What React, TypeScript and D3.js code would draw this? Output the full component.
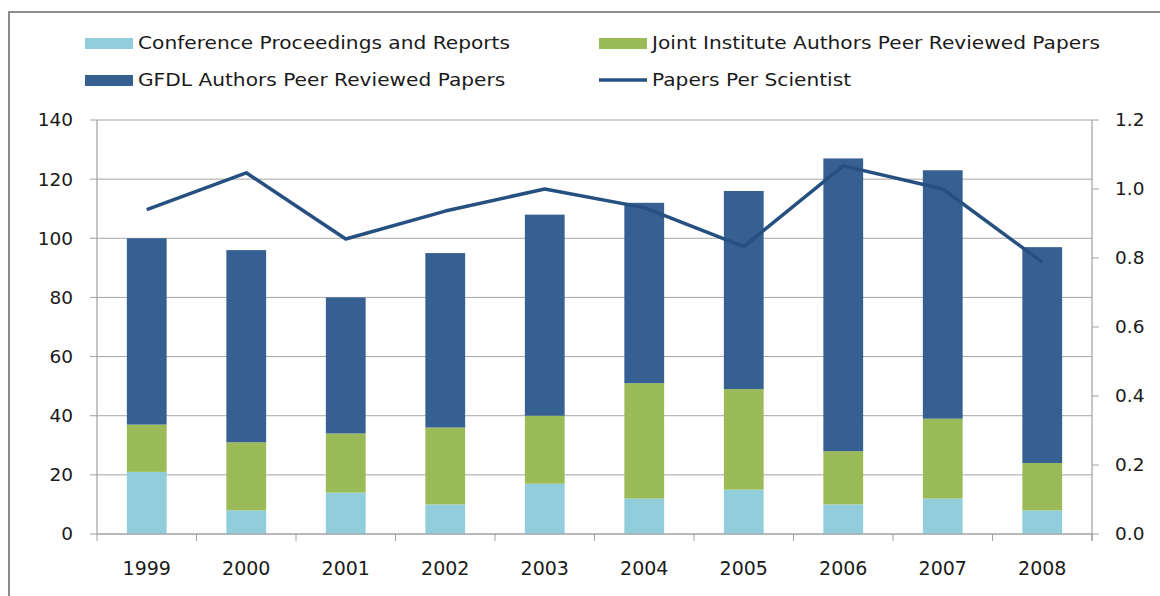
import React, { useEffect, useRef } from 'react';
import * as d3 from 'd3';

// chart data
const years = ['1999', '2000', '2001', '2002', '2003', '2004', '2005', '2006', '2007', '2008'];
const conference = [21, 8, 14, 10, 17, 12, 15, 10, 12, 8];
const jointInstitute = [16, 23, 20, 26, 23, 39, 34, 18, 27, 16];
const gfdl = [63, 65, 46, 59, 68, 61, 67, 99, 84, 73];
const papersPerScientist = [0.94, 1.047, 0.855, 0.936, 1.0, 0.946, 0.833, 1.067, 1.0, 0.788];
const leftTicks = [0, 20, 40, 60, 80, 100, 120, 140];
const rightTicks = [0, 0.2, 0.4, 0.6, 0.8, 1.0, 1.2];

const seriesNames = ['Conference Proceedings and Reports', 'Joint Institute Authors Peer Reviewed Papers', 'GFDL Authors Peer Reviewed Papers'];
const lineName = 'Papers Per Scientist';
const colors = ['#92CDDC', '#9BBB59', '#366092'];
const lineColor = '#25507F';

const W = 1160;
const H = 596;
const FONT = '"DejaVu Sans", sans-serif';

const App = () => {
    const ref = useRef<SVGSVGElement | null>(null);

    useEffect(() => {
        if (!ref.current) return;
        const svg = d3.select(ref.current);
        svg.selectAll('*').remove();

        const left = 97, right = 1092, top = 120, bottom = 534;

        const x = d3.scaleBand().domain(years).range([left, right]).paddingInner(0.6).paddingOuter(0.3);
        const xb = d3.scaleBand().domain(years).range([left, right]);
        const y = d3.scaleLinear().domain([0, 140]).range([bottom, top]);
        const y2 = d3.scaleLinear().domain([0, 1.2]).range([bottom, top]);

        // outer frame
        svg.append('rect').attr('x', 9).attr('y', 12).attr('width', W).attr('height', H)
            .attr('fill', 'none').attr('stroke', '#8c8c8c').attr('stroke-width', 2);

        // gridlines
        svg.append('g').selectAll('line').data(leftTicks).enter().append('line')
            .attr('x1', left).attr('x2', right).attr('y1', d => y(d)).attr('y2', d => y(d))
            .attr('stroke', '#a6a6a6').attr('stroke-width', 1);

        // stacked bars
        const rows = years.map((yr, i) => ({ year: yr, c: conference[i], j: jointInstitute[i], g: gfdl[i] }));
        const stack = d3.stack<any>().keys(['c', 'j', 'g'])(rows);
        stack.forEach((layer, k) => {
            svg.append('g').selectAll('rect').data(layer).enter().append('rect')
                .attr('x', d => x(d.data.year) as number)
                .attr('width', x.bandwidth())
                .attr('y', d => y(d[1]))
                .attr('height', d => y(d[0]) - y(d[1]))
                .attr('fill', colors[k]);
        });

        // axes lines
        const axisColor = '#a0a0a0';
        svg.append('line').attr('x1', left).attr('x2', left).attr('y1', top).attr('y2', bottom).attr('stroke', axisColor).attr('stroke-width', 1.2);
        svg.append('line').attr('x1', right).attr('x2', right).attr('y1', top).attr('y2', bottom + 7).attr('stroke', axisColor).attr('stroke-width', 1.2);
        svg.append('line').attr('x1', left).attr('x2', right).attr('y1', bottom).attr('y2', bottom).attr('stroke', axisColor).attr('stroke-width', 1.2);

        // left ticks + labels
        const lt = svg.append('g');
        lt.selectAll('line').data(leftTicks).enter().append('line')
            .attr('x1', left - 7).attr('x2', left).attr('y1', d => y(d)).attr('y2', d => y(d))
            .attr('stroke', axisColor);
        lt.selectAll('text').data(leftTicks).enter().append('text')
            .attr('x', left - 24).attr('y', d => y(d)).attr('dy', '0.35em').attr('text-anchor', 'end')
            .attr('font-family', FONT).attr('font-size', 18.5).attr('fill', '#1a1a1a').text(d => d);

        // right ticks + labels
        const rt = svg.append('g');
        rt.selectAll('line').data(rightTicks).enter().append('line')
            .attr('x1', right).attr('x2', right + 7).attr('y1', d => y2(d)).attr('y2', d => y2(d))
            .attr('stroke', axisColor);
        rt.selectAll('text').data(rightTicks).enter().append('text')
            .attr('x', right + 23).attr('y', d => y2(d)).attr('dy', '0.35em').attr('text-anchor', 'start')
            .attr('font-family', FONT).attr('font-size', 18.5).attr('fill', '#1a1a1a').text(d => d.toFixed(1));

        // category ticks + labels
        const bt = svg.append('g');
        const edges = years.map(d => xb(d) as number).concat([right]);
        bt.selectAll('line').data(edges).enter().append('line')
            .attr('x1', d => d).attr('x2', d => d).attr('y1', bottom).attr('y2', bottom + 7)
            .attr('stroke', axisColor);
        bt.selectAll('text').data(years).enter().append('text')
            .attr('x', d => (xb(d) as number) + xb.bandwidth() / 2).attr('y', 568).attr('dy', '0.35em')
            .attr('text-anchor', 'middle').attr('font-family', FONT).attr('font-size', 19).attr('fill', '#1a1a1a').text(d => d);

        // papers per scientist line
        const line = d3.line<number>()
            .x((_, i) => (x(years[i]) as number) + x.bandwidth() / 2)
            .y(d => y2(d));
        svg.append('path').datum(papersPerScientist).attr('d', line)
            .attr('fill', 'none').attr('stroke', lineColor).attr('stroke-width', 3.5).attr('stroke-linejoin', 'round');

        // legend
        const legend = [
            { name: seriesNames[0], color: colors[0], x: 85, y: 43, type: 'rect' },
            { name: seriesNames[1], color: colors[1], x: 599, y: 43, type: 'rect' },
            { name: seriesNames[2], color: colors[2], x: 85, y: 80, type: 'rect' },
            { name: lineName, color: lineColor, x: 599, y: 80, type: 'line' },
        ];
        const lg = svg.append('g');
        legend.forEach(l => {
            if (l.type === 'rect') {
                lg.append('rect').attr('x', l.x).attr('y', l.y - 5).attr('width', 48).attr('height', 11).attr('fill', l.color);
            } else {
                lg.append('line').attr('x1', l.x).attr('x2', l.x + 48).attr('y1', l.y).attr('y2', l.y)
                    .attr('stroke', l.color).attr('stroke-width', 3.5);
            }
            lg.append('text').attr('transform', `translate(${l.x + 53},${l.y}) scale(1.12,1)`).attr('dy', '0.35em')
                .attr('font-family', FONT).attr('font-size', 18).attr('fill', '#1a1a1a').text(l.name);
        });
    }, []);

    return (
        <svg ref={ref} width={W} height={H} style={{ position: 'absolute', left: 0, top: 0, background: '#fff' }} />
    );
};

export default App;
